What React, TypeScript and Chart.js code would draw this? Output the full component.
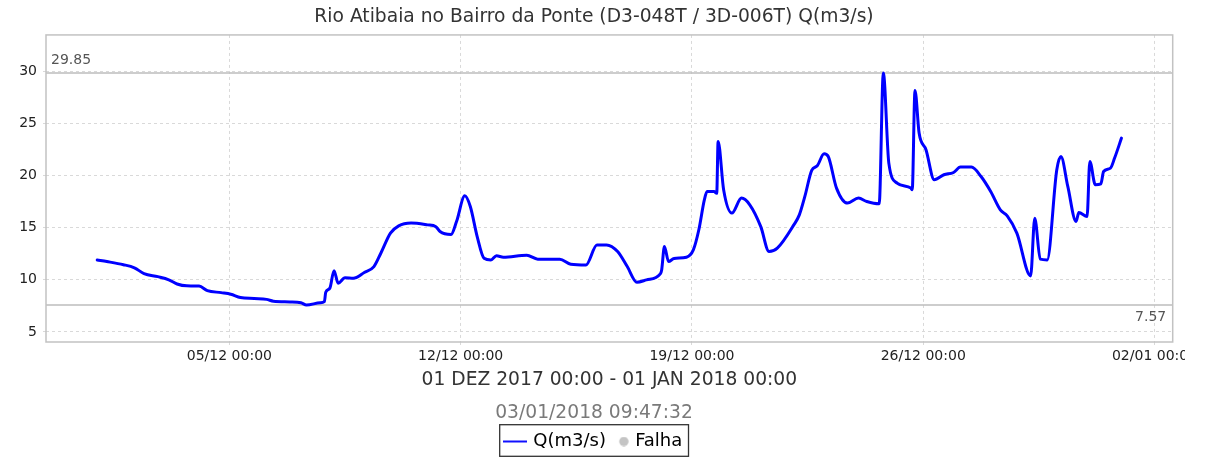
import React, { useEffect, useRef } from 'react';
import { Chart, registerables } from 'chart.js';

Chart.register(...registerables);

const FONT = "'DejaVu Sans', sans-serif";

const TITLE = 'Rio Atibaia no Bairro da Ponte (D3-048T / 3D-006T) Q(m3/s)';
const PERIOD = '01 DEZ 2017 00:00 - 01 JAN 2018 00:00';
const GENERATED = '03/01/2018 09:47:32';
const SERIES_LABEL = 'Q(m3/s)';
const FAIL_LABEL = 'Falha';

// hours since 01/12/2017 00:00
const hours = [
  0, 7, 19, 27, 34, 44, 52, 58, 65, 74, 80, 90, 97, 104, 114, 123, 128, 140, 148, 152,
  162, 165, 166, 169, 172, 175, 180, 186, 194, 201, 206, 213, 219, 228, 240, 246, 249, 257, 261, 267,
  271, 276, 281, 286, 290, 295, 312, 320, 336, 344, 355, 363, 370, 378, 385, 392, 399, 409, 410, 412,
  415, 419, 428, 433, 437, 441, 443, 448, 450, 451, 455, 461, 468, 474, 482, 488, 494, 506, 510, 514,
  519, 523, 528, 531, 537, 545, 553, 559, 568, 571, 575, 581, 591, 592, 594, 597, 602, 608, 615, 622,
  627, 635, 642, 649, 656, 661, 668, 678, 681, 685, 690, 697, 700, 705, 711, 713, 719, 721, 725, 729,
  731, 736, 739, 744,
];

// Q (m3/s)
const flow = [
  11.9, 11.75, 11.45, 11.15, 10.6, 10.3, 10.0, 9.6, 9.42, 9.4, 8.96, 8.77, 8.62, 8.3, 8.2, 8.12, 7.94, 7.88, 7.8, 7.57,
  7.8, 7.9, 8.8, 9.2, 10.88, 9.67, 10.2, 10.15, 10.7, 11.27, 12.55, 14.48, 15.18, 15.44, 15.27, 15.1, 14.63, 14.35, 15.59, 18.06,
  17.03, 14.15, 12.07, 11.91, 12.3, 12.17, 12.36, 11.98, 11.98, 11.5, 11.43, 13.35, 13.35, 12.71, 11.27, 9.77, 9.99, 10.57, 10.95, 13.19,
  11.75, 12.04, 12.17, 12.87, 14.8, 17.67, 18.47, 18.47, 18.3, 23.28, 18.64, 16.4, 17.84, 17.2, 15.1, 12.71, 13.04, 15.27, 16.23, 18.0,
  20.5, 20.94, 22.09, 21.83, 18.8, 17.36, 17.84, 17.51, 17.29, 29.85, 21.2, 19.28, 18.8, 18.64, 28.17, 24.08, 22.48, 19.6, 20.08, 20.3,
  20.82, 20.82, 19.91, 18.47, 16.71, 16.14, 14.48, 10.37, 15.91, 11.98, 11.91, 20.56, 21.83, 18.96, 15.59, 16.45, 16.07, 21.35, 19.12, 19.21,
  20.39, 20.72, 21.68, 23.6,
];

const xTickHours = [96, 264, 432, 600, 768];
const yTicks = [5, 10, 15, 20, 25, 30];

const X_MIN = -37.2;
const X_MAX = 781.2;
const Y_MIN = 4.03;
const Y_MAX = 33.5;

const START_UTC = Date.UTC(2017, 11, 1, 0, 0, 0);

function pad2(n: number) {
  return String(n).padStart(2, '0');
}

function formatTick(h: number) {
  const d = new Date(START_UTC + h * 3600000);
  return `${pad2(d.getUTCDate())}/${pad2(d.getUTCMonth() + 1)} ${pad2(d.getUTCHours())}:${pad2(d.getUTCMinutes())}`;
}

function makeLineMarker() {
  const c = document.createElement('canvas');
  c.width = 24;
  c.height = 4;
  const g = c.getContext('2d')!;
  g.fillStyle = '#1010ff';
  g.fillRect(0, 1, 24, 2);
  return c;
}

function makeDotMarker() {
  const c = document.createElement('canvas');
  c.width = 24;
  c.height = 10;
  const g = c.getContext('2d')!;
  g.fillStyle = '#c4c4c4';
  g.beginPath();
  g.arc(19, 5, 4.7, 0, Math.PI * 2);
  g.fill();
  return c;
}

const decorPlugin = {
  id: 'decor',
  beforeDatasetsDraw(chart: any) {
    const { ctx, chartArea } = chart;
    const ys = chart.scales.y;
    const maxV = Math.max(...flow);
    const minV = Math.min(...flow);
    ctx.save();
    ctx.strokeStyle = '#bcbcbc';
    ctx.lineWidth = 1.5;
    ctx.setLineDash([]);
    [maxV, minV].forEach((v) => {
      const y = ys.getPixelForValue(v);
      ctx.beginPath();
      ctx.moveTo(chartArea.left, y);
      ctx.lineTo(chartArea.right, y);
      ctx.stroke();
    });
    ctx.strokeStyle = '#c2c2c2';
    ctx.lineWidth = 1.5;
    ctx.strokeRect(chartArea.left, chartArea.top, chartArea.right - chartArea.left, chartArea.bottom - chartArea.top);
    ctx.restore();
  },
  afterDraw(chart: any) {
    const { ctx, chartArea } = chart;
    const ys = chart.scales.y;
    const maxV = Math.max(...flow);
    const minV = Math.min(...flow);
    ctx.save();
    ctx.font = `14px ${FONT}`;
    ctx.fillStyle = '#555555';
    ctx.textBaseline = 'middle';
    ctx.textAlign = 'left';
    ctx.fillText(maxV.toFixed(2), chartArea.left + 5, ys.getPixelForValue(maxV) - 13);
    ctx.textAlign = 'right';
    ctx.fillText(minV.toFixed(2), chartArea.right - 6.5, ys.getPixelForValue(minV) + 12);

    const hb = chart.legend && chart.legend.legendHitBoxes;
    if (hb && hb.length) {
      const first = hb[0];
      const last = hb[hb.length - 1];
      const left = first.left - 6;
      const right = last.left + last.width + 6.2;
      ctx.strokeStyle = '#333333';
      ctx.lineWidth = 1.3;
      ctx.strokeRect(left, first.top - 7.8, right - left, 31.6);
    }
    ctx.restore();
  },
};

export default function App() {
  const ref = useRef<HTMLCanvasElement>(null);

  useEffect(() => {
    const canvas = ref.current;
    if (!canvas) return;
    const lineImg = makeLineMarker();
    const dotImg = makeDotMarker();
    const gridColor = '#d9d9d9';

    const chart = new Chart(canvas, {
      type: 'line',
      data: {
        datasets: [
          {
            label: SERIES_LABEL,
            data: hours.map((h, i) => ({ x: h, y: flow[i] })),
            borderColor: '#0000ff',
            backgroundColor: '#0000ff',
            borderWidth: 3,
            pointRadius: 0,
            cubicInterpolationMode: 'monotone',
            borderJoinStyle: 'round',
            borderCapStyle: 'round',
          },
          {
            label: FAIL_LABEL,
            data: [],
            borderColor: '#c4c4c4',
            backgroundColor: '#c4c4c4',
            pointStyle: 'circle',
            pointRadius: 0,
            showLine: false,
          },
        ],
      },
      options: {
        responsive: false,
        animation: false,
        devicePixelRatio: 1,
        layout: { padding: { left: 15.3, right: 12.3, top: 0, bottom: -2.5 } },
        scales: {
          x: {
            type: 'linear',
            min: X_MIN,
            max: X_MAX,
            afterBuildTicks: (s: any) => {
              s.ticks = xTickHours.map((v) => ({ value: v }));
            },
            afterFit: (s: any) => {
              s.height = 59.56;
              s.paddingLeft = 0;
              s.paddingRight = 0;
            },
            ticks: {
              autoSkip: false,
              maxRotation: 0,
              minRotation: 0,
              padding: 3,
              color: '#222222',
              font: { family: FONT, size: 14 },
              callback: (v: any) => formatTick(Number(v)),
            },
            grid: {
              color: gridColor,
              lineWidth: 1,
              drawTicks: true,
              tickLength: 3,
              tickColor: gridColor,
              tickBorderDash: [3, 3],
            },
            border: { display: false, dash: [3, 3] },
            title: {
              display: true,
              text: PERIOD,
              color: '#333333',
              font: { family: FONT, size: 18.7 },
              padding: { top: 0, bottom: 10 },
            },
          },
          y: {
            type: 'linear',
            min: Y_MIN,
            max: Y_MAX,
            afterBuildTicks: (s: any) => {
              s.ticks = yTicks.map((v) => ({ value: v }));
            },
            afterFit: (s: any) => {
              s.width = 30.7;
              s.paddingTop = 0;
              s.paddingBottom = 0;
            },
            ticks: {
              padding: 6,
              color: '#222222',
              font: { family: FONT, size: 14 },
            },
            grid: {
              color: gridColor,
              lineWidth: 1,
              drawTicks: true,
              tickLength: 3,
              tickColor: gridColor,
              tickBorderDash: [3, 3],
            },
            border: { display: false, dash: [3, 3] },
          },
        },
        plugins: {
          title: {
            display: true,
            text: TITLE,
            color: '#333333',
            font: { family: FONT, size: 18.7, weight: 'normal' },
            padding: { top: 5.8, bottom: 6.7 },
          },
          subtitle: {
            display: true,
            text: GENERATED,
            position: 'bottom',
            color: '#7a7a7a',
            font: { family: FONT, size: 18.7, weight: 'normal' },
            padding: { top: 0, bottom: 6.9 },
          },
          legend: {
            display: true,
            position: 'bottom',
            weight: 2000,
            onClick: () => {},
            labels: {
              usePointStyle: true,
              pointStyleWidth: 18.6,
              boxHeight: 18,
              padding: 1.6,
              color: '#222222',
              font: { family: FONT, size: 18 },
              generateLabels: () => [
                {
                  text: SERIES_LABEL,
                  pointStyle: lineImg,
                  fillStyle: '#0000ff',
                  strokeStyle: '#0000ff',
                  lineWidth: 0,
                  hidden: false,
                  datasetIndex: 0,
                },
                {
                  text: FAIL_LABEL,
                  pointStyle: dotImg,
                  fillStyle: '#c4c4c4',
                  strokeStyle: '#c4c4c4',
                  lineWidth: 0,
                  hidden: false,
                  datasetIndex: 1,
                },
              ],
            },
          },
          tooltip: { enabled: false },
        },
      } as any,
      plugins: [decorPlugin],
    });

    return () => chart.destroy();
  }, []);

  return (
    <div style={{ position: 'absolute', left: 0, top: 0, width: 1185, height: 458, background: '#ffffff' }}>
      <canvas ref={ref} width={1185} height={458} style={{ display: 'block', width: 1185, height: 458 }} />
    </div>
  );
}
